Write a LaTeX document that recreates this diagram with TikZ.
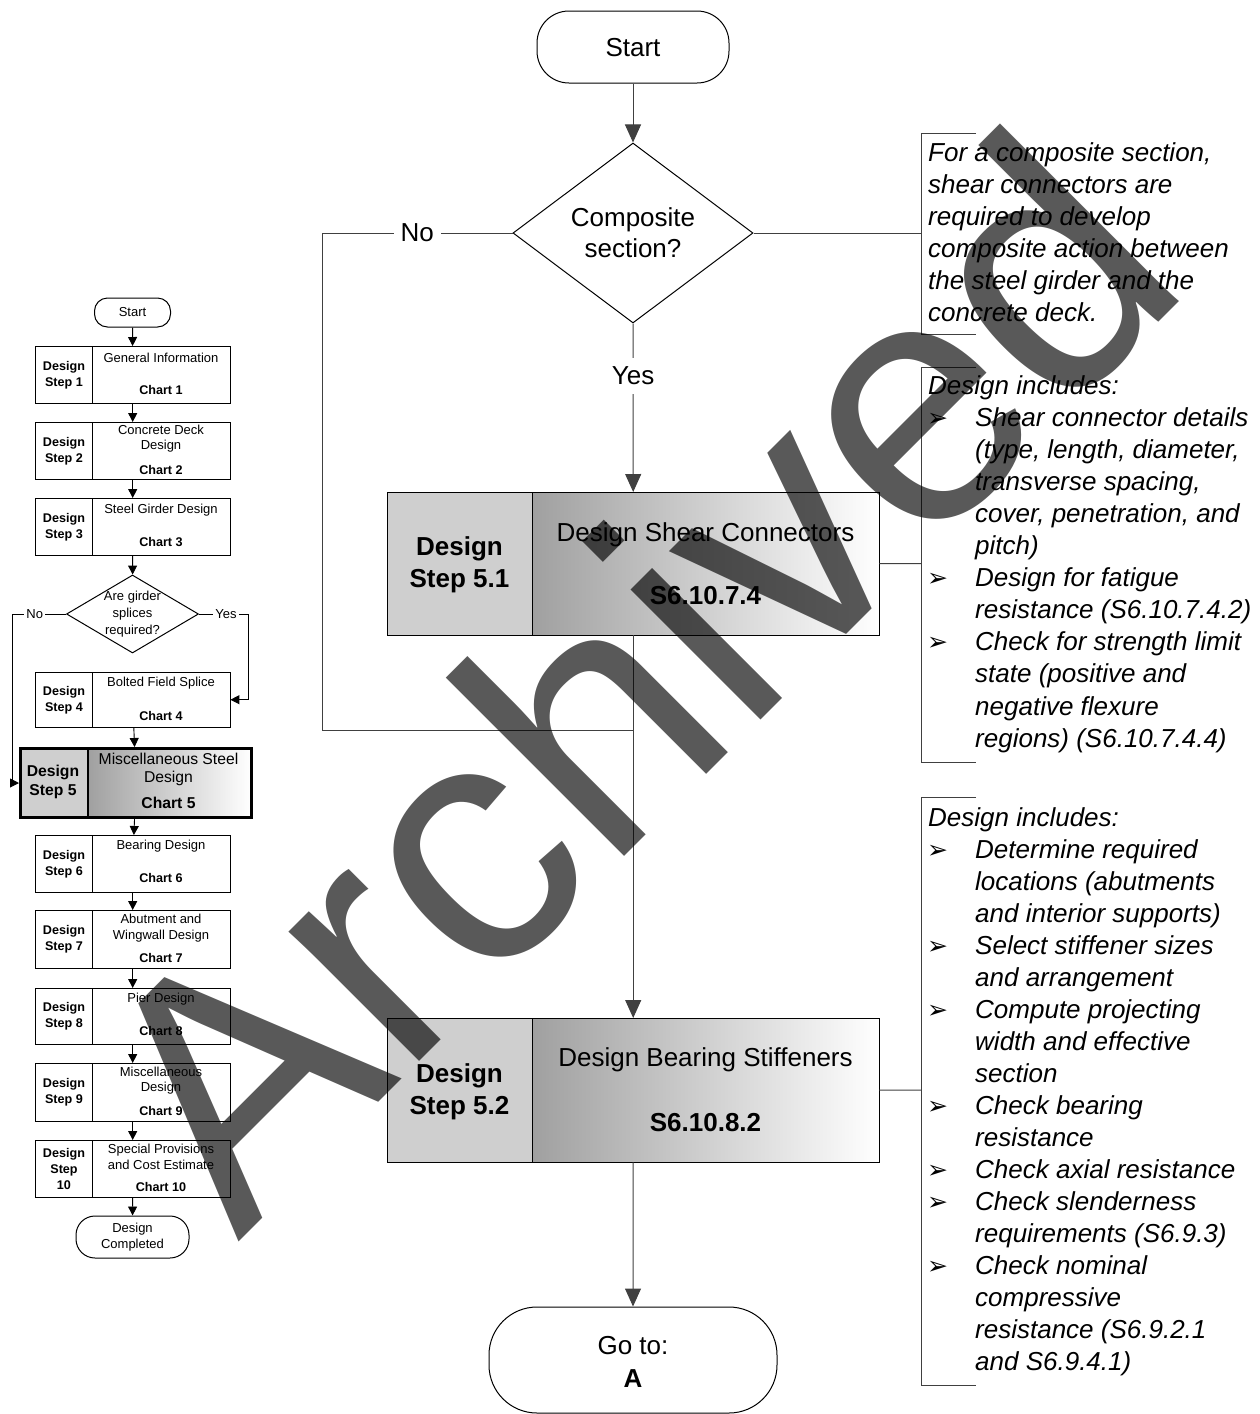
\documentclass[tikz,border=0pt]{standalone}
\usepackage{fontspec}
\setmainfont{Liberation Sans}
\newfontfamily\arrowfont{DejaVu Sans}
\usetikzlibrary{arrows.meta,shapes.geometric,calc}

\definecolor{linegray}{HTML}{404040}
\definecolor{cellgray}{HTML}{CFCFCF}
\definecolor{shadegray}{HTML}{A0A0A0}

\tikzset{
  conn/.style={draw=linegray, line width=1pt},
  arr/.style={conn, -{Triangle[length=18pt,width=16pt]}},
  mconn/.style={draw=black, line width=0.9pt},
  marr/.style={mconn, -{Triangle[length=9pt,width=9pt]}},
  bigtxt/.style={inner sep=0, anchor=base, font=\fontsize{26}{31}\selectfont},
  bigbold/.style={inner sep=0, anchor=base, font=\bfseries\fontsize{26}{32}\selectfont},
  note/.style={inner sep=0, anchor=base west, font=\itshape\fontsize{26}{32}\selectfont},
  bul/.style={inner sep=0, anchor=base west, font=\arrowfont\fontsize{25}{25}\selectfont},
  patcell/.style={draw=black, line width=1pt, fill=cellgray, inner sep=0, anchor=north west},
  gradcell/.style={draw=black, line width=1pt, left color=shadegray, right color=white, inner sep=0, anchor=north west},
  frame/.style={inner sep=0, anchor=north west},
  term/.style={draw=black, line width=1pt, inner sep=0},
  lbl/.style={fill=white, inner xsep=7pt, inner ysep=9pt, font=\fontsize{26}{31}\selectfont},
  mlbl/.style={fill=white, inner xsep=2pt, inner ysep=1pt, font=\fontsize{13}{15}\selectfont},
  mcell/.style={draw=black, line width=1pt, inner sep=0, anchor=north west},
  mtxt/.style={inner sep=0, align=center, font=\fontsize{13}{15.5}\selectfont},
  mbold/.style={inner sep=0, align=center, font=\bfseries\fontsize{12.6}{16}\selectfont},
  bracket/.style={draw=linegray, line width=1pt},
}

% one row of the overview chart: name, top, bottom, step text, title y, title, chart y, chart text
\newcommand{\ministep}[8]{%
  \node[mcell, minimum width=57pt, minimum height={(#3-#2)*1pt}] (#1L) at (35,#2) {};
  \node[mcell, minimum width=138pt, minimum height={(#3-#2)*1pt}] (#1R) at (92,#2) {};
  \node[frame, minimum width=195pt, minimum height={(#3-#2)*1pt}] (#1) at (35,#2) {};
  \node[mbold] (#1s) at (#1L.center) {#4};
  \node[mtxt] (#1t) at (161,#5) {#6};
  \node[mbold] (#1c) at (161,#7) {#8};
}

\begin{document}
\begin{tikzpicture}[x=1pt,y=-1pt]
\useasboundingbox (0,0) rectangle (1260,1414);

% ---------------- overview chart (left) ----------------
\node[term, rounded corners=13pt, minimum width=76pt, minimum height=29pt] (mstart) at (132.5,312.5) {};
\node[mtxt] (mstartt) at (mstart.center) {Start};

\ministep{s1}{346}{403}{Design\\Step 1}{358}{General Information}{390}{Chart 1}
\ministep{s2}{422}{479}{Design\\Step 2}{438.5}{Concrete Deck\\Design}{470}{Chart 2}
\ministep{s3}{498}{555}{Design\\Step 3}{510}{Steel Girder Design}{542}{Chart 3}

\node[diamond, draw=black, line width=1pt, inner sep=0, minimum width=132pt, minimum height=78pt] (mdia) at (132.5,614) {};
\node[mtxt, font=\fontsize{13}{17}\selectfont] (mdiat) at (mdia.center) {Are girder\\splices\\required?};

\ministep{s4}{672}{727}{Design\\Step 4}{683}{Bolted Field Splice}{716}{Chart 4}

% current chart, highlighted
\node[mcell, line width=1.5pt, fill=cellgray, minimum width=68pt, minimum height=69pt] (s5L) at (19,747) {};
\node[mcell, line width=1.5pt, left color=shadegray, right color=white, minimum width=163pt, minimum height=69pt] (s5R) at (87,747) {};
\node[draw=black, line width=3pt, inner sep=0, minimum width=231pt, minimum height=69pt, anchor=north west] (s5) at (19,747) {};
\node[inner sep=0, align=center, font=\bfseries\fontsize{15.7}{19}\selectfont] (s5s) at (53,781.5) {Design\\Step 5};
\node[inner sep=0, align=center, font=\fontsize{15.7}{18}\selectfont] (s5t) at (168.5,769) {Miscellaneous Steel\\Design};
\node[inner sep=0, font=\bfseries\fontsize{15.7}{18}\selectfont] (s5c) at (168.5,803) {Chart 5};

\ministep{s6}{835}{892}{Design\\Step 6}{846}{Bearing Design}{878}{Chart 6}
\ministep{s7}{910}{968}{Design\\Step 7}{928}{Abutment and\\Wingwall Design}{958}{Chart 7}
\ministep{s8}{988}{1044}{Design\\Step 8}{999}{Pier Design}{1031}{Chart 8}
\ministep{s9}{1063}{1121}{Design\\Step 9}{1080.5}{Miscellaneous\\Design}{1111}{Chart 9}
\ministep{s10}{1140}{1197}{Design\\Step\\10}{1157}{Special Provisions\\and Cost Estimate}{1187}{Chart 10}

\node[term, rounded corners=19pt, minimum width=113pt, minimum height=42pt] (mend) at (132.5,1237) {};
\node[mtxt, font=\fontsize{13}{16}\selectfont] (mendt) at (mend.center) {Design\\Completed};

\draw[marr] (mstart) -- (s1);
\draw[marr] (s1) -- (s2);
\draw[marr] (s2) -- (s3);
\draw[marr] (s3) -- (mdia);
\draw[marr] (s4) -- (s5);
\draw[marr] (s5) -- (s6);
\draw[marr] (s6) -- (s7);
\draw[marr] (s7) -- (s8);
\draw[marr] (s8) -- (s9);
\draw[marr] (s9) -- (s10);
\draw[marr] (s10) -- (mend);

\coordinate (mno) at (12,614);
\coordinate (myes) at (248,614);
\draw[marr] (mdia.west) -- node[mlbl, pos=0.58] (mnol) {No} (mno) -- (mno |- s5.west) -- (s5.west);
\draw[marr] (mdia.east) -- node[mlbl, pos=0.55] (myesl) {Yes} (myes) -- (myes |- s4.east) -- (s4.east);

% ---------------- detailed flow (centre) ----------------
\node[term, rounded corners=32pt, minimum width=192pt, minimum height=72pt] (start) at (633,47) {};
\node[bigtxt] (startt) at (633,56) {Start};

\node[diamond, draw=black, line width=1pt, inner sep=0, minimum width=240pt, minimum height=180pt] (dia) at (633,233) {};
\node[bigtxt] (diat1) at (633,226) {Composite};
\node[bigtxt] (diat2) at (633,257) {section?};

% Design Step 5.1
\node[patcell, minimum width=145pt, minimum height=143pt] (b51L) at (387,492) {};
\node[gradcell, minimum width=347pt, minimum height=143pt] (b51R) at (532,492) {};
\node[frame, minimum width=492pt, minimum height=143pt] (b51) at (387,492) {};
\node[bigbold] (b51s1) at (459.5,555) {Design};
\node[bigbold] (b51s2) at (459.5,587) {Step 5.1};
\node[bigtxt] (b51t) at (705.5,541) {Design Shear Connectors};
\node[bigbold] (b51c) at (705.5,604) {S6.10.7.4};

% Design Step 5.2
\node[patcell, minimum width=145pt, minimum height=144pt] (b52L) at (387,1018) {};
\node[gradcell, minimum width=347pt, minimum height=144pt] (b52R) at (532,1018) {};
\node[frame, minimum width=492pt, minimum height=144pt] (b52) at (387,1018) {};
\node[bigbold] (b52s1) at (459.5,1082) {Design};
\node[bigbold] (b52s2) at (459.5,1114) {Step 5.2};
\node[bigtxt] (b52t) at (705.5,1066) {Design Bearing Stiffeners};
\node[bigbold] (b52c) at (705.5,1131) {S6.10.8.2};

\node[term, rounded corners=48pt, minimum width=288pt, minimum height=106pt] (goto) at (633,1360) {};
\node[bigtxt] (gotot) at (633,1354) {Go to:};
\node[bigbold] (gotoa) at (633,1387) {A};

\coordinate (nc1) at (322,233);
\coordinate (nc2) at (322,730);
\coordinate (nj) at (633,730);
\draw[arr] (start) -- (dia);
\draw[conn] (dia.west) -- node[lbl] (nol) {No} (nc1) -- (nc2) -- (nj);
\draw[arr] (dia.south) -- node[lbl, pos=0.31] (yesl) {Yes} (b51.north);
\draw[arr] (b51.south) -- (b52.north);
\draw[arr] (b52.south) -- (goto.north);

% ---------------- annotations (right) ----------------
\coordinate (brA) at (921,233);
\coordinate (brB) at (921,563.5);
\coordinate (brC) at (921,1090);
\draw[conn] (dia.east) -- (brA);
\draw[conn] (b51.east) -- (brB);
\draw[conn] (b52.east) -- (brC);
\draw[bracket] (976,133) -- (921,133) -- (921,334) -- (976,334);
\draw[bracket] (976,367) -- (921,367) -- (921,762) -- (976,762);
\draw[bracket] (976,797) -- (921,797) -- (921,1385) -- (976,1385);

\foreach \t [count=\i from 0] in {{For a composite section,},{shear connectors are},{required to develop},{composite action between},{the steel girder and the},{concrete deck.}}
  \node[note] (na\i) at (928,{161+32*\i}) {\t};

\node[note] (nb0) at (928,394) {Design includes:};
\foreach \t [count=\i from 1] in {{Shear connector details},{(type, length, diameter,},{transverse spacing,},{cover, penetration, and},{pitch)},{Design for fatigue},{resistance (S6.10.7.4.2)},{Check for strength limit},{state (positive and},{negative flexure},{regions) (S6.10.7.4.4)}}
  \node[note] (nb\i) at (975,{394+32.1*\i}) {\t};
\foreach \i in {1,6,8}
  \node[bul] (bb\i) at (927,{394+32.1*\i}) {➢};

\node[note] (nc0) at (928,826) {Design includes:};
\foreach \t [count=\i from 1] in {{Determine required},{locations (abutments},{and interior supports)},{Select stiffener sizes},{and arrangement},{Compute projecting},{width and effective},{section},{Check bearing},{resistance},{Check axial resistance},{Check slenderness},{requirements (S6.9.3)},{Check nominal},{compressive},{resistance (S6.9.2.1},{and S6.9.4.1)}}
  \node[note] (nc\i) at (975,{826+32*\i}) {\t};
\foreach \i in {1,4,6,9,11,12,14}
  \node[bul] (bc\i) at (927,{826+32*\i}) {➢};

% ---------------- watermark ----------------
\node[anchor=base west, rotate=45, inner sep=0, opacity=0.65, font=\fontsize{348}{348}\selectfont] (wm) at (238,1243) {Archived};

\end{tikzpicture}
\end{document}
